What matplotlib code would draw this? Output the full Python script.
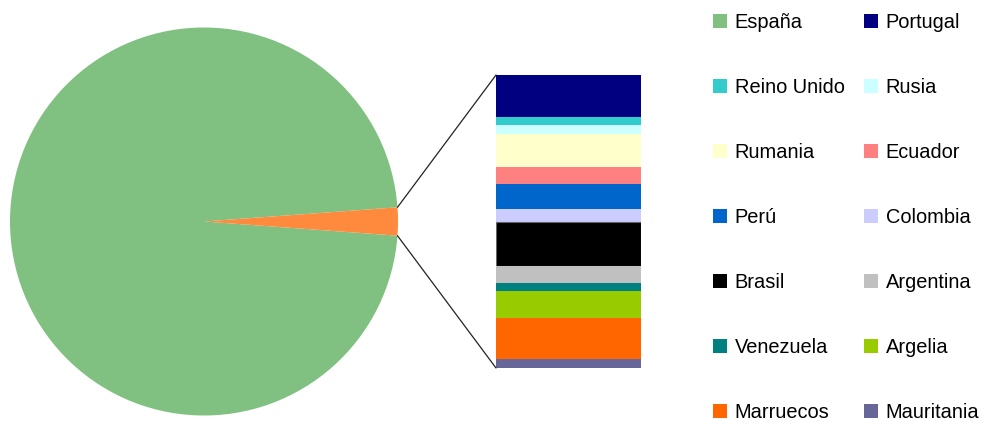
import matplotlib
matplotlib.use("Agg")
import numpy as np
import matplotlib.pyplot as plt
from matplotlib.patches import Patch, ConnectionPatch

plt.rcParams['font.family'] = ['Liberation Sans', 'DejaVu Sans']

# data: main pie (España vs. the rest) and breakdown of the rest
espana = 12280
otros_paises = ['Portugal', 'Reino Unido', 'Rusia', 'Rumania', 'Ecuador', 'Perú',
                'Colombia', 'Brasil', 'Argentina', 'Venezuela', 'Argelia',
                'Marruecos', 'Mauritania']
otros_valores = [42, 8, 9, 33, 17, 25, 13, 44, 17, 8, 27, 41, 9]
otros_colores = ['#000080', '#33CCCC', '#CCFFFF', '#FFFFCC', '#FF8080', '#0066CC',
                 '#CCCCFF', '#000000', '#C0C0C0', '#008080', '#99CC00',
                 '#FF6600', '#666699']
color_espana = '#80C080'
color_otros = '#FF8A3D'

W, H = 986, 425
fig = plt.figure(figsize=(W / 100, H / 100), dpi=100)

# pie
total_otros = sum(otros_valores)
frac = total_otros / (espana + total_otros)
half = frac * 180.0
ax1 = fig.add_axes([10 / W, 9 / H, 388 / W, 389 / H])
wedges, _ = ax1.pie([espana, total_otros], colors=[color_espana, color_otros],
                    startangle=half, counterclock=True, radius=1,
                    wedgeprops=dict(linewidth=0))
ax1.set_xlim(-1, 1)
ax1.set_ylim(-1, 1)
ax1.set_aspect('equal')
ax1.axis('off')

# stacked bar, first country at the top
ax2 = fig.add_axes([496 / W, 57 / H, 145 / W, 293 / H])
bottom = total_otros
for v, c in zip(otros_valores, otros_colores):
    bottom -= v
    if c == '#000000':
        ax2.bar(0, v, 1.0, bottom=bottom, color=c, edgecolor='#666666', linewidth=0.8)
    else:
        ax2.bar(0, v, 1.0, bottom=bottom, color=c, linewidth=0)
ax2.set_xlim(-0.5, 0.5)
ax2.set_ylim(0, total_otros)
ax2.axis('off')

# lines from the slice to the bar
theta = np.deg2rad(half)
for sgn, ybar in ((1, total_otros), (-1, 0)):
    con = ConnectionPatch(xyA=(np.cos(theta), sgn * np.sin(theta)), coordsA=ax1.transData,
                          xyB=(-0.5, ybar), coordsB=ax2.transData,
                          color='#222222', linewidth=0.9)
    fig.add_artist(con)

# legend, two columns filled row by row
etiquetas = ['España'] + otros_paises
colores = [color_espana] + otros_colores
handles = [Patch(facecolor=c, edgecolor='none', label=l) for l, c in zip(etiquetas, colores)]
for col, x0 in ((0, 713), (1, 864)):
    hs = handles[col::2]
    fig.legend(handles=hs, loc='upper left', bbox_to_anchor=(x0 / W, 1 - 13 / H),
               frameon=False, fontsize=14.4, borderpad=0, borderaxespad=0,
               handlelength=0.7, handleheight=0.7, handletextpad=0.38,
               labelspacing=2.3)

fig.savefig('out.png', dpi=100)
